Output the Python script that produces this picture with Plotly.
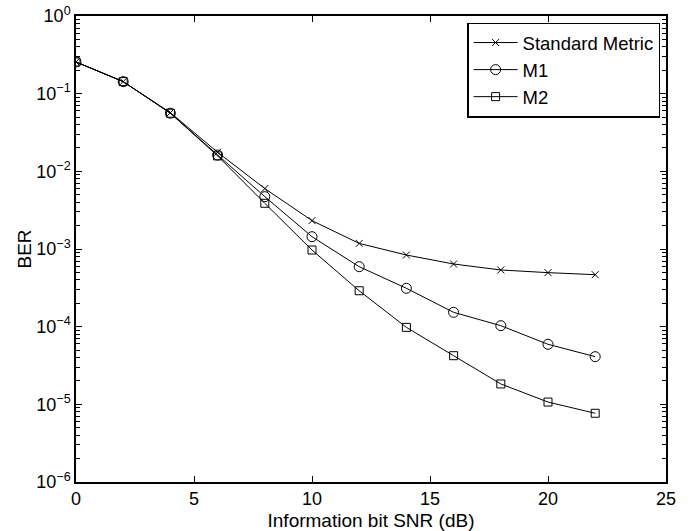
import plotly.graph_objects as go

snr = [0, 2, 4, 6, 8, 10, 12, 14, 16, 18, 20, 22]
ber_standard = [0.256, 0.143, 0.057, 0.0176, 0.0060, 0.00232, 0.00118, 0.000837, 0.000641, 0.000537, 0.000496, 0.000467]
ber_m1 = [0.256, 0.143, 0.056, 0.0162, 0.00472, 0.00144, 0.000592, 0.000312, 0.000153, 0.000103, 5.93e-5, 4.11e-5]
ber_m2 = [0.256, 0.143, 0.056, 0.0158, 0.00388, 0.00097, 0.00029, 9.8e-5, 4.23e-5, 1.83e-5, 1.07e-5, 7.67e-6]

series_names = ["Standard Metric", "M1", "M2"]
x_ticks = [0, 5, 10, 15, 20, 25]
y_tickvals = [1e0, 1e-1, 1e-2, 1e-3, 1e-4, 1e-5, 1e-6]
y_ticktext = ["10<sup>0</sup>", "10<sup>−1</sup>", "10<sup>−2</sup>", "10<sup>−3</sup>",
              "10<sup>−4</sup>", "10<sup>−5</sup>", "10<sup>−6</sup>"]

font = "Liberation Sans, Arial, Helvetica, sans-serif"

fig = go.Figure()
symbols = ["x-thin-open", "circle-open", "square-open"]
sizes = [7, 10, 8]
for name, ys, sym, sz in zip(series_names, [ber_standard, ber_m1, ber_m2], symbols, sizes):
    fig.add_trace(go.Scatter(
        x=snr, y=ys, name=name, mode="lines+markers",
        line=dict(color="black", width=1),
        marker=dict(symbol=sym, size=sz, color="black", line=dict(color="black", width=1)),
    ))

fig.update_layout(
    width=699, height=531,
    margin=dict(l=76, r=33, t=16, b=49),
    paper_bgcolor="white", plot_bgcolor="white",
    font=dict(family=font, size=18, color="black"),
    showlegend=True,
    legend=dict(x=0.99, y=0.986, xanchor="right", yanchor="top",
                bordercolor="black", borderwidth=1.5, bgcolor="white",
                font=dict(size=18.5), tracegroupgap=0, itemwidth=44),
    xaxis=dict(
        range=[0, 25], tickvals=x_ticks, showgrid=False, zeroline=False,
        showline=True, linecolor="black", linewidth=1.5, mirror="ticks",
        ticks="inside", ticklen=6, tickcolor="black",
        title=dict(text="Information bit SNR (dB)", standoff=6, font=dict(size=19)),
        tickfont=dict(size=18), ticklabeloverflow="allow",
        automargin=False,
    ),
    yaxis=dict(
        type="log", range=[-6, 0], tickvals=y_tickvals, ticktext=y_ticktext,
        showgrid=False, zeroline=False,
        showline=True, linecolor="black", linewidth=1.5, mirror="ticks",
        ticks="inside", ticklen=6, tickcolor="black",
        minor=dict(ticks="inside", ticklen=4, tickcolor="black",
                   tickvals=[m * 10 ** e for e in range(-6, 0) for m in range(2, 10)]),
        title=dict(text="BER", standoff=0, font=dict(size=19)),
        tickfont=dict(size=18), ticklabeloverflow="allow",
        automargin=False,
    ),
)

# remove the browser's default 8px body margin so the figure fills the window exactly
fig.write_html("out.html", config={"displayModeBar": False},
               post_script="document.body.style.margin='0';")
